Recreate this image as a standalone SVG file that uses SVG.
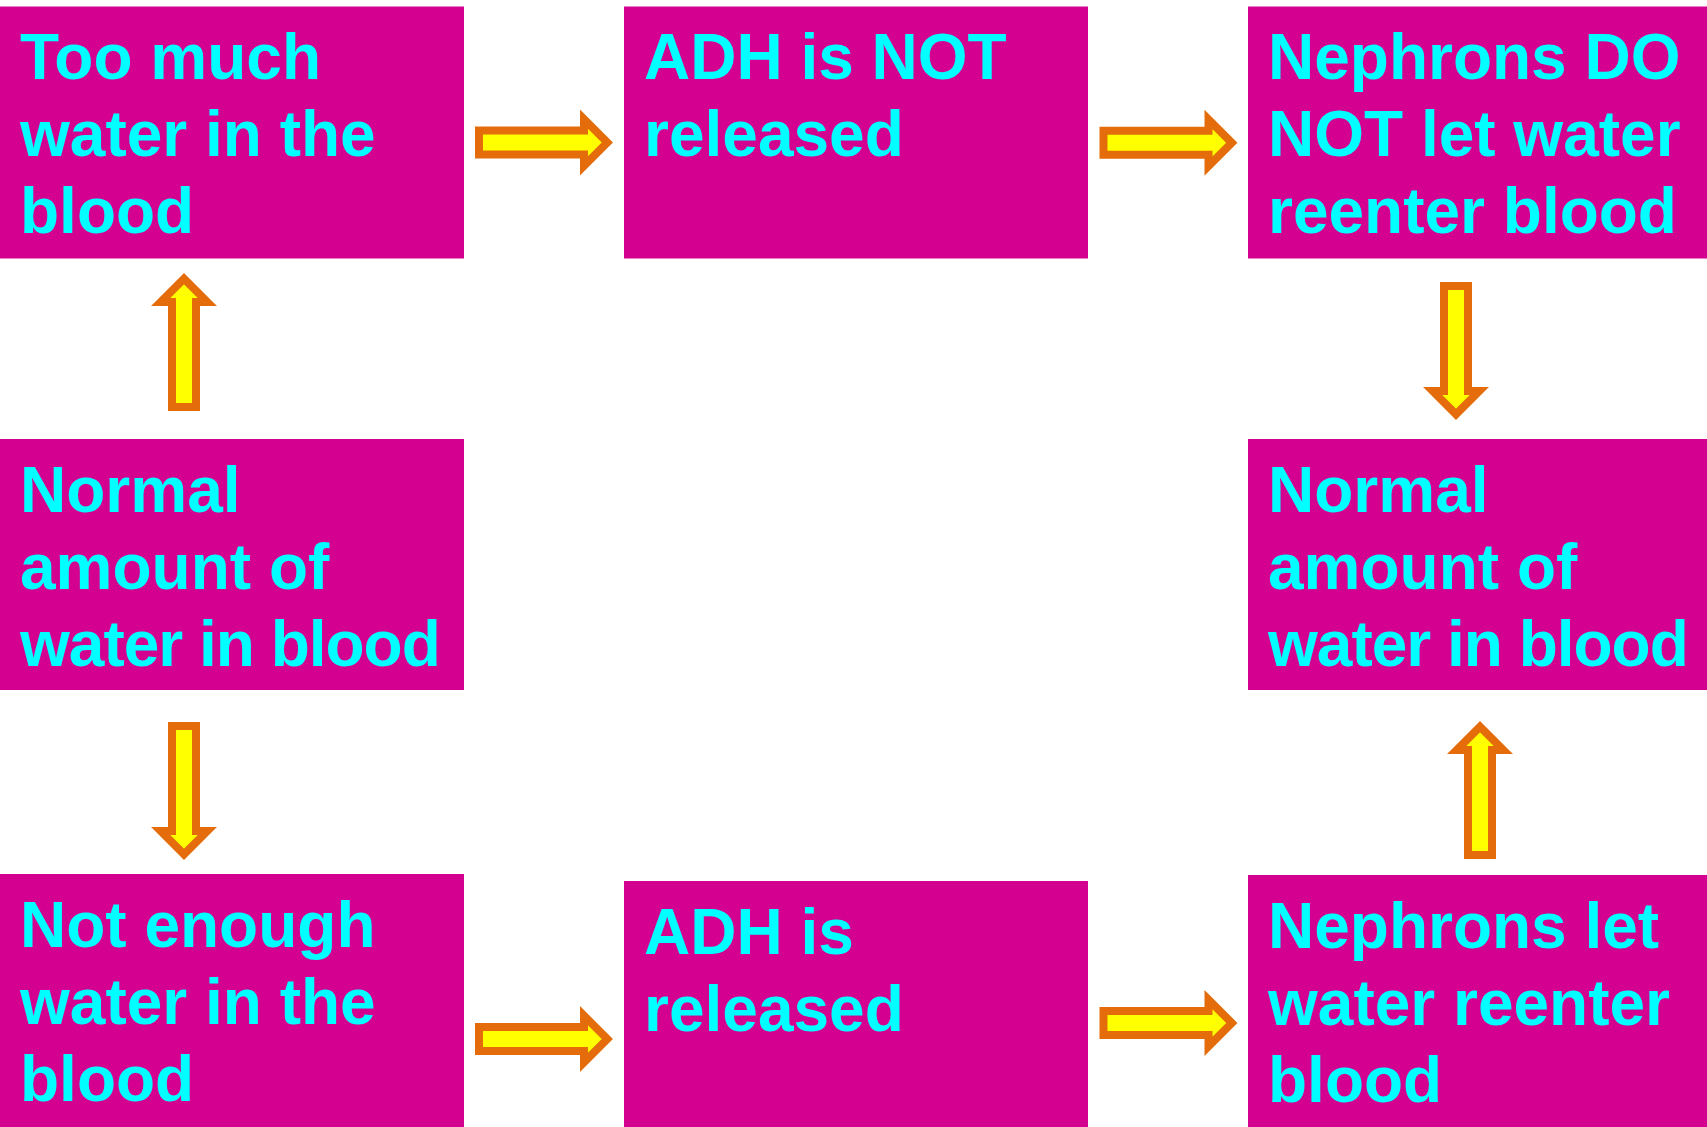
<svg xmlns="http://www.w3.org/2000/svg" xmlns:xlink="http://www.w3.org/1999/xlink" width="1707" height="1127" viewBox="0 0 1707 1127">
<style>
.box{fill:#D4008F;}
.lbl{font-family:"Liberation Sans",Arial,sans-serif;font-weight:bold;font-size:64px;fill:#00FFFF;}
.tight{letter-spacing:-1px;}
.arr{fill:#FFFF00;stroke:#E46C0A;stroke-width:8;stroke-linejoin:miter;stroke-miterlimit:10;}
</style>
<defs>
<path id="arrowR" class="arr" d="M4,-12 H109 V-23.3 L132.3,0 L109,23.3 V12 H4 Z"/>
</defs>
<rect width="1707" height="1127" fill="#FFFFFF"/>
<g id="node-too-much">
<rect class="box" x="0" y="6.5" width="464" height="252"/>
<text class="lbl" x="20"><tspan x="20" y="79">Too much</tspan><tspan x="20" y="156">water in the</tspan><tspan x="20" y="233">blood</tspan></text>
</g>
<g id="node-adh-not">
<rect class="box" x="624" y="6.5" width="464" height="252"/>
<text class="lbl"><tspan x="644" y="79">ADH is NOT</tspan><tspan x="644" y="156">released</tspan></text>
</g>
<g id="node-nephrons-do-not">
<rect class="box" x="1248" y="6.5" width="459" height="252"/>
<text class="lbl"><tspan x="1268" y="79">Nephrons DO</tspan><tspan x="1268" y="156">NOT let water</tspan><tspan x="1268" y="233">reenter blood</tspan></text>
</g>
<g id="node-normal-left">
<rect class="box" x="0" y="439" width="464" height="251"/>
<text class="lbl"><tspan x="20" y="511.5">Normal</tspan><tspan x="20" y="588.5">amount of</tspan><tspan class="tight" x="20" y="665.5">water in blood</tspan></text>
</g>
<g id="node-normal-right">
<rect class="box" x="1248" y="439" width="459" height="251"/>
<text class="lbl"><tspan x="1268" y="511.5">Normal</tspan><tspan x="1268" y="588.5">amount of</tspan><tspan class="tight" x="1268" y="665.5">water in blood</tspan></text>
</g>
<g id="node-not-enough">
<rect class="box" x="0" y="874" width="464" height="253"/>
<text class="lbl"><tspan x="20" y="946.5">Not enough</tspan><tspan x="20" y="1023.5">water in the</tspan><tspan x="20" y="1100.5">blood</tspan></text>
</g>
<g id="node-adh-released">
<rect class="box" x="624" y="881" width="464" height="246"/>
<text class="lbl"><tspan x="644" y="953.5">ADH is</tspan><tspan x="644" y="1030.5">released</tspan></text>
</g>
<g id="node-nephrons-let">
<rect class="box" x="1248" y="875" width="459" height="252"/>
<text class="lbl"><tspan x="1268" y="947.5">Nephrons let</tspan><tspan x="1268" y="1024.5">water reenter</tspan><tspan x="1268" y="1101.5">blood</tspan></text>
</g>
<g id="connectors">
<use xlink:href="#arrowR" transform="translate(475,142.5)"/>
<use xlink:href="#arrowR" transform="translate(1099.5,142.8)"/>
<use xlink:href="#arrowR" transform="translate(475,1039)"/>
<use xlink:href="#arrowR" transform="translate(1099.5,1023)"/>
<use xlink:href="#arrowR" transform="translate(184,411) rotate(-90)"/>
<use xlink:href="#arrowR" transform="translate(1456,282) rotate(90)"/>
<use xlink:href="#arrowR" transform="translate(184,722) rotate(90)"/>
<use xlink:href="#arrowR" transform="translate(1480,859) rotate(-90)"/>
</g>
</svg>
